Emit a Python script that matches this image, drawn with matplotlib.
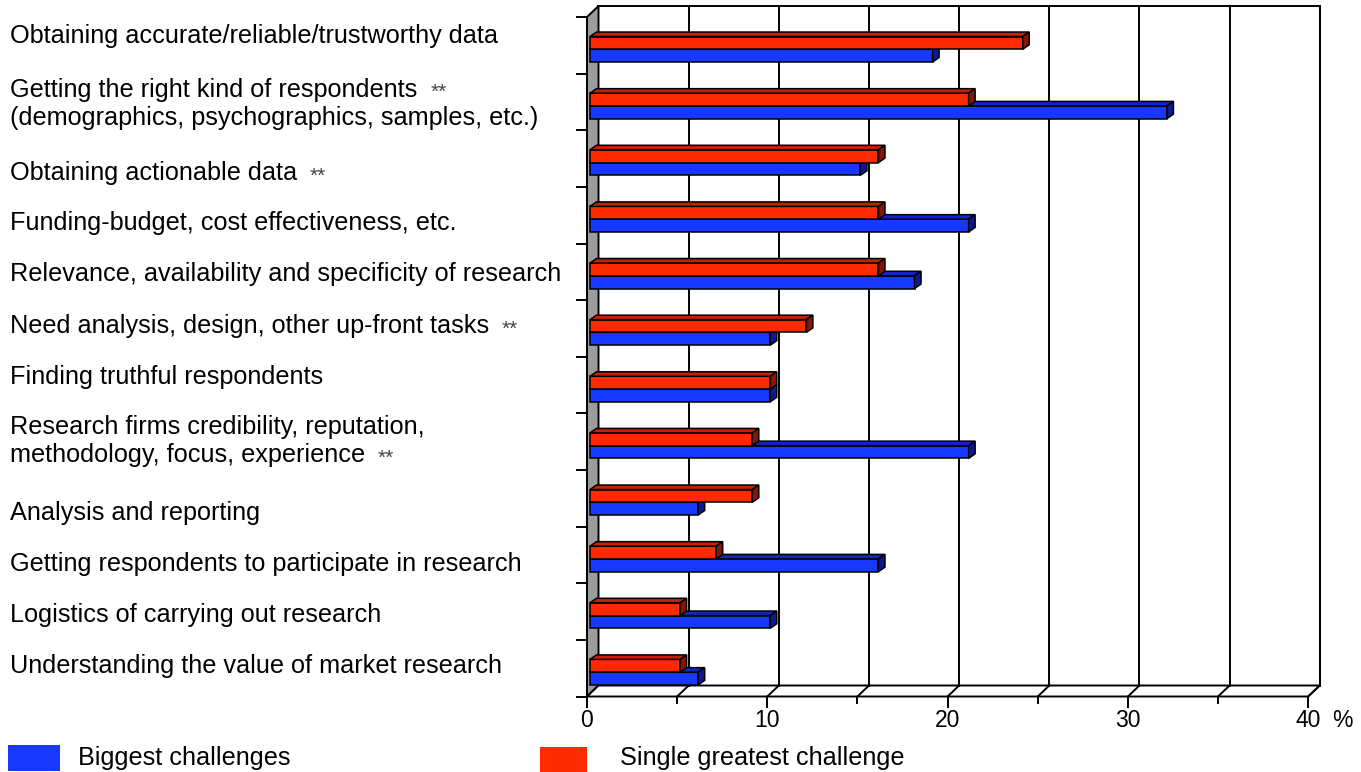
import matplotlib
matplotlib.use("Agg")
import matplotlib.pyplot as plt
from matplotlib.patches import Polygon, Rectangle

# ---- data -------------------------------------------------------------
categories = [
    "Obtaining accurate/reliable/trustworthy data",
    "Getting the right kind of respondents\n(demographics, psychographics, samples, etc.)",
    "Obtaining actionable data",
    "Funding-budget, cost effectiveness, etc.",
    "Relevance, availability and specificity of research",
    "Need analysis, design, other up-front tasks",
    "Finding truthful respondents",
    "Research firms credibility, reputation,\nmethodology, focus, experience",
    "Analysis and reporting",
    "Getting respondents to participate in research",
    "Logistics of carrying out research",
    "Understanding the value of market research",
]
biggest = [19, 32, 15, 21, 18, 10, 10, 21, 6, 16, 10, 6]
single = [24, 21, 16, 16, 16, 12, 10, 9, 9, 7, 5, 5]
# line of the label that carries the "**" note (None = no note)
flag_line = [None, 0, 0, None, None, 0, None, 1, None, None, None, None]
series_names = ["Biggest challenges", "Single greatest challenge"]
x_ticks = [0, 10, 20, 30, 40]
x_max = 40

# ---- layout -----------------------------------------------------------
W, H, DPI = 1361, 772, 100
FONT = "Liberation Sans"
X0_PX, UNIT_PX = 587.0, 18.03           # pixel of value 0 and pixels per unit
Y0_PX, ROW_PX = 696.5, 56.625           # pixel of floor front edge, pixels per row
DX, DY = 11.5 / UNIT_PX, 11.0 / ROW_PX  # depth of the chart box
BDX, BDY = 6.5 / UNIT_PX, 4.5 / ROW_PX  # depth of each bar
BAR_X0 = 3.0 / UNIT_PX                  # bars start slightly inside the wall
BLUE_LO, BAR_H = 0.205, 0.225           # bar placement within a row
label_baselines = [[42.5], [96.5, 125], [180], [230], [281], [333], [384],
                   [434, 462], [520], [571], [622], [673]]

RED, RED_TOP, RED_SIDE = "#FF2A00", "#C81E00", "#8A1400"
BLUE, BLUE_TOP, BLUE_SIDE = "#1638FF", "#0F26C8", "#0A1A96"
LW = 1.4
LABEL_FS = 18.2

fig = plt.figure(figsize=(W / DPI, H / DPI), dpi=DPI)
ax = fig.add_axes([0, 0, 1, 1])
ax.set_xlim(-X0_PX / UNIT_PX, (W - X0_PX) / UNIT_PX)
ax.set_ylim(-(H - Y0_PX) / ROW_PX, Y0_PX / ROW_PX)
ax.axis("off")

n = len(categories)

# left wall
ax.add_patch(Polygon([(0, 0), (DX, DY), (DX, n + DY), (0, n)], closed=True,
                     facecolor="#9C9C9C", edgecolor="black", lw=LW, zorder=1))
# floor
ax.add_patch(Polygon([(0, 0), (x_max, 0), (x_max + DX, DY), (DX, DY)], closed=True,
                     facecolor="white", edgecolor="black", lw=LW, zorder=1))
# back wall frame and grid
ax.plot([DX, x_max + DX, x_max + DX], [n + DY, n + DY, DY], color="black", lw=LW, zorder=1)
for v in range(5, x_max + 1, 5):
    ax.plot([v + DX, v + DX], [DY, n + DY], color="black", lw=LW, zorder=1)
    ax.plot([v, v + DX], [0, DY], color="black", lw=LW, zorder=1)

# x ticks on the floor front edge
for v in range(0, x_max + 1, 5):
    ln = 10 / ROW_PX if v % 10 == 0 else 6 / ROW_PX
    ax.plot([v, v], [0, -ln], color="black", lw=LW, zorder=1)
for v in x_ticks:
    ax.text(v, -0.54, str(v), ha="center", va="baseline", fontsize=16.5,
            family=FONT, color="black")
ax.text(x_max + 1.35, -0.54, "%", ha="left", va="baseline", fontsize=16.5,
        family=FONT, color="black")

# y ticks on the wall front edge
for k in range(n + 1):
    ax.plot([0, -10 / UNIT_PX], [k, k], color="black", lw=LW, zorder=1)


def bar3d(x0, x1, y0, y1, face, top, side, z):
    ax.add_patch(Polygon([(x0, y0), (x1, y0), (x1, y1), (x0, y1)], closed=True,
                         facecolor=face, edgecolor="black", lw=1.1, zorder=z))
    ax.add_patch(Polygon([(x0, y1), (x1, y1), (x1 + BDX, y1 + BDY), (x0 + BDX, y1 + BDY)],
                         closed=True, facecolor=top, edgecolor="black", lw=1.1, zorder=z))
    ax.add_patch(Polygon([(x1, y0), (x1 + BDX, y0 + BDY), (x1 + BDX, y1 + BDY), (x1, y1)],
                         closed=True, facecolor=side, edgecolor="black", lw=1.1, zorder=z))


for i in range(n):
    k = n - 1 - i
    yb = k + BLUE_LO
    bar3d(BAR_X0, BAR_X0 + biggest[i], yb, yb + BAR_H, BLUE, BLUE_TOP, BLUE_SIDE, 3)
    bar3d(BAR_X0, BAR_X0 + single[i], yb + BAR_H, yb + 2 * BAR_H, RED, RED_TOP, RED_SIDE, 4)

# category labels
renderer = fig.canvas.get_renderer()
for label, bases, fl in zip(categories, label_baselines, flag_line):
    for j, (line, b) in enumerate(zip(label.split("\n"), bases)):
        t = fig.text(10 / W, 1 - b / H, line, ha="left", va="baseline",
                     fontsize=LABEL_FS, family=FONT, color="black")
        if fl == j:
            bb = t.get_window_extent(renderer)
            fig.text((bb.x1 + 13) / W, 1 - (b + 1.5) / H, "**", ha="left", va="baseline",
                     fontsize=15, family=FONT, color="#444444")

# legend
fig.patches.append(Rectangle((8 / W, 1 - 771 / H), 52 / W, 26 / H, transform=fig.transFigure,
                             facecolor=BLUE, edgecolor="none"))
fig.text(78 / W, 1 - 765 / H, series_names[0], ha="left", va="baseline", fontsize=LABEL_FS,
         family=FONT, color="black")
fig.patches.append(Rectangle((540 / W, 1 - 772 / H), 47 / W, 25 / H, transform=fig.transFigure,
                             facecolor=RED, edgecolor="none"))
fig.text(620 / W, 1 - 765 / H, series_names[1], ha="left", va="baseline", fontsize=LABEL_FS,
         family=FONT, color="black")

fig.savefig("out.png", dpi=DPI)
